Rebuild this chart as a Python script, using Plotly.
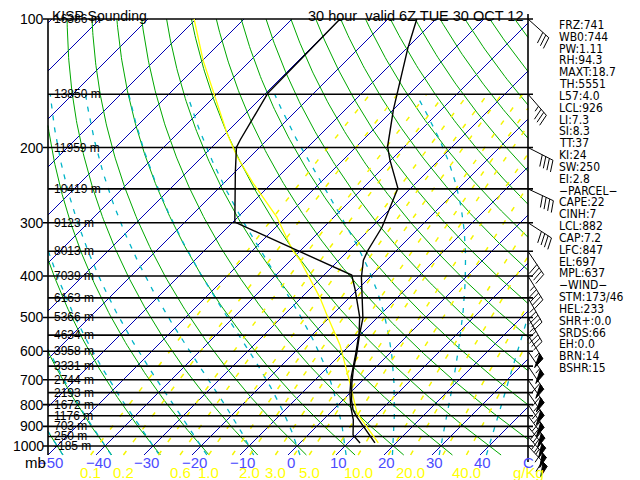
import numpy as np
import plotly.graph_objects as go

# ---------------- values ----------------
TEMP_P = [984, 903, 855, 824, 781, 712, 664, 606, 550, 502, 431, 403, 367, 348, 307, 276, 249, 214, 199, 163, 117, 100]
TEMP_C = [15.6, 9.9, 6.4, 4.2, 1.8, -1.7, -4.1, -6.9, -10.1, -12.9, -19.0, -21.7, -24.9, -26.0, -27.9, -30.4, -32.7, -40.2, -43.5, -50.0, -59.8, -64.0]

DEWP_P = [984, 943, 869, 809, 752, 689, 606, 544, 499, 431, 398, 299, 229, 200, 192, 149, 100]
DEWP_C = [12.5, 9.4, 6.3, 3.0, 0.0, -3.1, -7.1, -10.6, -13.8, -20.4, -24.2, -59.6, -69.8, -74.8, -75.6, -79.6, -80.0]

PARCEL_P = [984, 837, 712, 580, 494, 448, 367, 348, 291, 242, 210, 185, 149, 125, 100]
PARCEL_C = [16.3, 5.6, -2.1, -12.1, -21.0, -26.3, -38.1, -41.7, -51.9, -64.0, -72.8, -79.8, -90.9, -99.9, -110.4]

ISOBARS = [100, 150, 200, 250, 300, 350, 400, 450, 500, 550, 600, 650, 700, 750, 800, 850, 900, 950, 1000]
HEIGHT_LABELS = ["16386 m", "13850 m", "11959 m", "10419 m", "9123 m", "8013 m", "7039 m", "6163 m",
                 "5366 m", "4634 m", "3958 m", "3331 m", "2744 m", "2193 m", "1672 m", "1176 m",
                 "703 m", "250 m", "-185 m"]
MB_TICKS = [100, 200, 300, 400, 500, 600, 700, 800, 900, 1000]

WIND_P = [100, 150, 200, 250, 300, 350, 400, 450, 500, 550, 600, 650, 700, 750, 800, 850, 900, 950, 1000]
WIND_DIR = [132, 139, 117, 115, 123, 146, 148, 150, 150, 148, 146, 146, 145, 145, 145, 143, 141, 139, 137]
WIND_KT = [30, 35, 40, 40, 40, 40, 45, 45, 45, 55, 55, 60, 60, 65, 65, 70, 70, 65, 60]

TEMP_TICKS = [-50, -40, -30, -20, -10, 0, 10, 20, 30, 40]
MIXR_TICKS = [0.1, 0.2, 0.6, 1.0, 2.0, 3.0, 5.0, 10.0, 20.0, 40.0]

ISOTHERMS = list(range(-140, 51, 10))
DRY_ADIABATS = list(range(-50, 200, 10))      # potential temperature, deg C
MOIST_ADIABATS = list(range(-50, 41, 10))     # wet-bulb potential temperature, deg C
MIXR_LINES = [0.1, 0.2, 0.4, 0.6, 1, 1.5, 2, 3, 4, 5, 7, 10, 15, 20, 30, 40]

STATS = ["FRZ:741", "WB0:744", "PW:1.11", "RH:94.3", "MAXT:18.7", "TH:5551", "L57:4.0", "LCL:926",
         "LI:7.3", "SI:8.3", "TT:37", "KI:24", "SW:250", "EI:2.8", "\u2212PARCEL\u2212", "CAPE:22",
         "CINH:7", "LCL:882", "CAP:7.2", "LFC:847", "EL:697", "MPL:637", "\u2212WIND\u2212",
         "STM:173/46", "HEL:233", "SHR+:0.0", "SRDS:66", "EH:0.0", "BRN:14", "BSHR:15"]

TITLE_LEFT = "KISP Sounding"
TITLE_RIGHT = "30 hour\u00a0\u00a0valid 6Z TUE 30 OCT 12"

# ---------------- layout geometry (screen pixels of the 640x480 window) ----------------
SCREEN_W, SCREEN_H = 640, 480
PAGE_MARGIN = 8                      # default body margin of the html page
W, H = SCREEN_W - PAGE_MARGIN, SCREEN_H - PAGE_MARGIN
BOX_L, BOX_R, BOX_T, BOX_B = 48, 528, 19, 455
T_MIN, T_MAX = -50.0, 50.0
P_TOP, P_BOT = 100.0, 1050.0
PX_C = (BOX_R - BOX_L) / (T_MAX - T_MIN)
PX_DEC = (BOX_B - BOX_T) / np.log10(P_BOT / P_TOP)
SKEW = PX_DEC / PX_C  # 45 degree skew


def Y(p):
    return np.log10(np.asarray(p, dtype=float))


def X(t, p):
    return np.asarray(t, dtype=float) + SKEW * np.log10(P_BOT / np.asarray(p, dtype=float))


def px_x(px):
    return T_MIN + (px - BOX_L) / PX_C


def px_y(py):
    return np.log10(P_TOP) + (py - BOX_T) / PX_DEC


X_RANGE = [px_x(PAGE_MARGIN), px_x(SCREEN_W)]
Y_RANGE = [px_y(SCREEN_H), px_y(PAGE_MARGIN)]

FONT = "Liberation Sans, Arial, sans-serif"
NARROW = "Liberation Sans Narrow, Arial Narrow, DejaVu Sans Condensed, Liberation Sans, Arial, sans-serif"

# ---------------- thermodynamics ----------------
RD, CP, LV, EPS = 287.04, 1005.7, 2.501e6, 0.622


def esat(tc):
    return 6.112 * np.exp(17.67 * tc / (tc + 243.5))


def dtdp(p, tk):
    e = esat(tk - 273.15)
    rs = EPS * e / (p - e)
    num = RD * tk + LV * rs
    den = CP + LV * LV * rs * EPS / (RD * tk * tk)
    return num / (den * p)


def moist_line(tw):
    def integ(p0, p1, step):
        ps = [p0]
        ts = [tw + 273.15]
        p, t = p0, tw + 273.15
        n = int(abs(p1 - p0) / abs(step))
        h = (p1 - p0) / n
        for _ in range(n):
            k1 = dtdp(p, t)
            k2 = dtdp(p + h / 2, t + h / 2 * k1)
            k3 = dtdp(p + h / 2, t + h / 2 * k2)
            k4 = dtdp(p + h, t + h * k3)
            t = t + h / 6 * (k1 + 2 * k2 + 2 * k3 + k4)
            p = p + h
            ps.append(p)
            ts.append(t)
        return ps, ts
    pu, tu = integ(1000.0, 150.0, 4.0)
    pd, td = integ(1000.0, 1050.0, 5.0)
    ps = pd[::-1] + pu[1:]
    ts = td[::-1] + tu[1:]
    return np.array(ps), np.array(ts) - 273.15


def mixr_td(w, p):
    e = w * p / (622.0 + w)
    lne = np.log(e / 6.112)
    return 243.5 * lne / (17.67 - lne)


def clip(xv, yv, lo=T_MIN, hi=T_MAX):
    ox, oy = [], []
    for i in range(len(xv)):
        x, y = float(xv[i]), float(yv[i])
        inside = lo <= x <= hi
        if i > 0:
            x0, y0 = float(xv[i - 1]), float(yv[i - 1])
            in0 = lo <= x0 <= hi
            if in0 != inside:
                b = lo if (x < lo or x0 < lo) else hi
                tt = (b - x0) / (x - x0)
                yb = y0 + tt * (y - y0)
                if in0:
                    ox += [b, None]
                    oy += [yb, None]
                else:
                    ox.append(b)
                    oy.append(yb)
        if inside:
            ox.append(x)
            oy.append(y)
    ox.append(None)
    oy.append(None)
    return ox, oy


fig = go.Figure()


def add_family(lines, color, width, dash="solid"):
    ax, ay = [], []
    for xs, ys in lines:
        cx, cy = clip(xs, ys)
        ax += cx
        ay += cy
    fig.add_trace(go.Scatter(x=ax, y=ay, mode="lines", hoverinfo="skip",
                             line=dict(color=color, width=width, dash=dash)))


# isotherms
pp = np.array([P_BOT, P_TOP])
add_family([(X([t, t], pp), Y(pp)) for t in ISOTHERMS], "#0000b4", 1)

# dry adiabats
pg = np.geomspace(P_BOT, P_TOP, 160)
add_family([(X((th + 273.15) * (pg / 1000.0) ** 0.2857 - 273.15, pg), Y(pg)) for th in DRY_ADIABATS],
           "#00a800", 1)

# moist adiabats
ml = []
for tw in MOIST_ADIABATS:
    mp, mt = moist_line(tw)
    ml.append((X(mt, mp), Y(mp)))
add_family(ml, "#00b4c8", 1.3, "5px,7px")

# mixing ratio lines
pm = np.geomspace(P_BOT, 150.0, 120)
add_family([(X(mixr_td(w, pm), pm), Y(pm)) for w in MIXR_LINES], "#f4f400", 1.5, "5px,11px")

# isobars and frame
ibx, iby = [], []
for p in ISOBARS:
    left = px_x(43) if p in MB_TICKS else T_MIN
    ibx += [left, px_x(533), None]
    iby += [float(Y(p)), float(Y(p)), None]
ibx += [T_MIN, T_MIN, None, T_MAX, T_MAX, None]
iby += [float(Y(P_TOP)), float(Y(P_BOT)), None, px_y(14), px_y(462), None]
fig.add_trace(go.Scatter(x=ibx, y=iby, mode="lines", hoverinfo="skip",
                         line=dict(color="black", width=1.6)))

# parcel, temperature, dewpoint
fig.add_trace(go.Scatter(x=X(PARCEL_C, PARCEL_P), y=Y(PARCEL_P), mode="lines", hoverinfo="skip",
                         line=dict(color="#ffff00", width=1.3)))
fig.add_trace(go.Scatter(x=X(TEMP_C, TEMP_P), y=Y(TEMP_P), mode="lines", hoverinfo="skip",
                         line=dict(color="black", width=1.4)))
fig.add_trace(go.Scatter(x=X(DEWP_C, DEWP_P), y=Y(DEWP_P), mode="lines", hoverinfo="skip",
                         line=dict(color="black", width=1.4)))

# ---------------- wind barbs (shapes sized in pixels from the anchor) ----------------
shapes = []
L_STAFF, L_FEATH, GAP = 28.0, 12.0, 4.0
rot = np.deg2rad(75)
for p, d, s in zip(WIND_P, WIND_DIR, WIND_KT):
    th = np.deg2rad(d)
    ux, uy = np.sin(th), -np.cos(th)          # screen coords (y down)
    fx = ux * np.cos(rot) - uy * np.sin(rot)
    fy = ux * np.sin(rot) + uy * np.cos(rot)

    def pt(a, b=0.0):
        return (a * ux + b * fx, -(a * uy + b * fy))   # pixel sizemode: y up positive

    lines = "M 0,0 L %.2f,%.2f" % pt(L_STAFF)
    fills = ""
    spd = int(5 * round(s / 5.0))
    npen, rem = divmod(spd, 50)
    nfull, rem = divmod(rem, 10)
    half = rem >= 5
    pos = L_STAFF
    for _ in range(npen):
        a = pt(pos)
        b = pt(pos - 6)
        c = pt(pos, L_FEATH)
        fills += "M %.2f,%.2f L %.2f,%.2f L %.2f,%.2f Z " % (a + b + c)
        pos -= 7
    for _ in range(nfull):
        a = pt(pos)
        c = pt(pos, L_FEATH)
        lines += " M %.2f,%.2f L %.2f,%.2f" % (a + c)
        pos -= GAP
    if half:
        a = pt(pos)
        c = pt(pos, L_FEATH / 2)
        lines += " M %.2f,%.2f L %.2f,%.2f" % (a + c)
    common = dict(type="path", xref="x", yref="y", xsizemode="pixel", ysizemode="pixel",
                  xanchor=T_MAX, yanchor=float(Y(p)))
    shapes.append(dict(path=lines, line=dict(color="black", width=1), **common))
    if fills:
        shapes.append(dict(path=fills, line=dict(color="black", width=1), fillcolor="black", **common))

# ---------------- texts ----------------
ann = []


def txt(x, y, s, size, color="black", xa="left", family=FONT):
    ann.append(dict(x=x, y=y, xref="x", yref="y", text=s, showarrow=False, xanchor=xa, yanchor="middle",
                    font=dict(family=family, size=size, color=color), borderpad=0))


txt(px_x(51), px_y(15.5), TITLE_LEFT, 14)
txt(px_x(524), px_y(15.5), TITLE_RIGHT, 14.5, xa="right")

for p in MB_TICKS:
    txt(px_x(45), float(Y(p)), str(p), 14, xa="right")

for p, lab in zip(ISOBARS, HEIGHT_LABELS):
    txt(px_x(53), float(Y(p)), lab, 12)

for t in TEMP_TICKS:
    txt(t + 0.6, px_y(462), "\u2212%d" % abs(t) if t < 0 else str(t), 15, "#4b4bff", "center")
txt(T_MAX, px_y(462), "C", 15, "#4b4bff", "center")
txt(px_x(35), px_y(462), "mb", 15, "black", "center")

for w in MIXR_TICKS:
    txt(float(mixr_td(w, P_BOT)), px_y(472), "%.1f" % w, 15, "#ffff00", "center")
txt(T_MAX, px_y(472), "g/Kg", 15, "#ffff00", "center")

for i, s in enumerate(STATS):
    txt(px_x(558), px_y(25 + i * 11.83), s, 12, family=NARROW)

fig.update_layout(
    width=W, height=H, margin=dict(l=0, r=0, t=0, b=0),
    paper_bgcolor="white", plot_bgcolor="white", showlegend=False,
    xaxis=dict(range=X_RANGE, visible=False, fixedrange=True),
    yaxis=dict(range=Y_RANGE, visible=False, fixedrange=True),
    shapes=shapes, annotations=ann,
)

fig.write_html("out.html")
